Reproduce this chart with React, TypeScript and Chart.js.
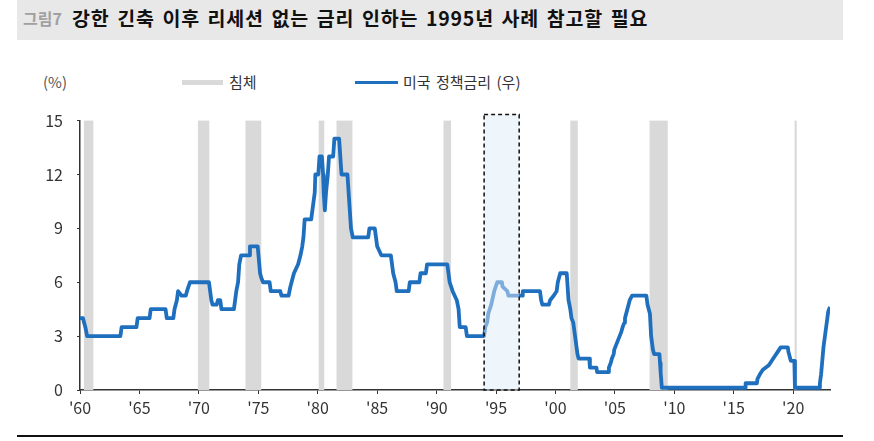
import { useEffect, useRef } from 'react';
import { Chart, registerables } from 'chart.js';
Chart.register(...registerables);

// 미국 정책금리 (변경 시점, %)
const RATE_YEAR = [
  1960.0, 1960.25, 1960.45, 1960.6, 1963.4, 1963.5, 1964.75, 1964.85, 1965.85, 1965.95,
  1967.2, 1967.3, 1967.85, 1967.95, 1968.15, 1968.25, 1968.55, 1968.9, 1969.0, 1969.25,
  1970.85, 1970.95, 1971.05, 1971.15, 1971.5, 1971.6, 1971.8, 1971.9, 1972.95, 1973.05,
  1973.15, 1973.3, 1973.4, 1973.55, 1974.25, 1974.3, 1974.95, 1975.05, 1975.15, 1975.25,
  1975.4, 1975.95, 1976.05, 1976.85, 1976.95, 1977.55, 1977.7, 1977.8, 1978.0, 1978.35,
  1978.55, 1978.7, 1978.8, 1978.9, 1979.45, 1979.55, 1979.65, 1979.75, 1979.8, 1980.05,
  1980.15, 1980.35, 1980.45, 1980.5, 1980.6, 1980.7, 1980.85, 1980.95, 1981.3, 1981.4,
  1981.8, 1981.9, 1982.0, 1982.5, 1982.6, 1982.7, 1982.8, 1982.95, 1984.25, 1984.35,
  1984.8, 1984.9, 1985.0, 1985.35, 1986.15, 1986.25, 1986.35, 1986.55, 1986.65, 1987.65,
  1987.75, 1988.55, 1988.65, 1989.1, 1989.2, 1990.9, 1991.0, 1991.1, 1991.35, 1991.7,
  1991.85, 1991.95, 1992.45, 1992.55, 1994.0, 1994.1, 1994.25, 1994.35, 1994.6, 1994.85,
  1995.1, 1995.5, 1995.55, 1995.95, 1996.05, 1997.2, 1997.25, 1998.7, 1998.8, 1998.9,
  1999.45, 1999.55, 1999.85, 2000.1, 2000.2, 2000.4, 2000.95, 2001.05, 2001.1, 2001.25,
  2001.35, 2001.5, 2001.65, 2001.75, 2001.85, 2001.95, 2002.85, 2002.9, 2003.45, 2003.5,
  2004.45, 2004.5, 2004.65, 2004.75, 2004.9, 2004.95, 2005.1, 2005.25, 2005.4, 2005.55,
  2005.65, 2005.8, 2005.85, 2006.05, 2006.25, 2006.45, 2007.65, 2007.75, 2007.85, 2007.95,
  2008.05, 2008.2, 2008.3, 2008.75, 2008.8, 2008.85, 2008.95, 2015.95, 2016.0, 2016.95,
  2017.0, 2017.2, 2017.45, 2017.95, 2018.2, 2018.45, 2018.7, 2018.95, 2019.55, 2019.6,
  2019.7, 2019.8, 2020.1, 2020.15, 2022.2, 2022.25, 2022.35, 2022.45, 2022.55, 2022.7,
  2022.85, 2022.95, 2023.1,
];
const RATE_PCT = [
  4.0, 4.0, 3.5, 3.0, 3.0, 3.5, 3.5, 4.0, 4.0, 4.5,
  4.5, 4.0, 4.0, 4.5, 5.0, 5.5, 5.25, 5.25, 5.5, 6.0,
  6.0, 5.5, 5.0, 4.75, 4.75, 5.0, 5.0, 4.5, 4.5, 5.0,
  5.5, 6.0, 7.0, 7.5, 7.5, 8.0, 8.0, 7.25, 6.5, 6.25,
  6.0, 6.0, 5.5, 5.5, 5.25, 5.25, 5.75, 6.0, 6.5, 7.0,
  7.5, 8.0, 8.5, 9.5, 9.5, 10.0, 10.5, 11.0, 12.0, 12.0,
  13.0, 13.0, 12.0, 11.0, 10.0, 11.0, 12.0, 13.0, 13.0, 14.0,
  14.0, 13.0, 12.0, 12.0, 11.0, 10.0, 9.0, 8.5, 8.5, 9.0,
  9.0, 8.5, 8.0, 7.5, 7.5, 7.0, 6.5, 6.0, 5.5, 5.5,
  6.0, 6.0, 6.5, 6.5, 7.0, 7.0, 6.5, 6.0, 5.5, 5.0,
  4.5, 3.5, 3.5, 3.0, 3.0, 3.5, 3.75, 4.25, 4.75, 5.5,
  6.0, 6.0, 5.75, 5.5, 5.25, 5.25, 5.5, 5.5, 5.0, 4.75,
  4.75, 5.0, 5.25, 5.5, 6.0, 6.5, 6.5, 5.5, 5.0, 4.5,
  4.0, 3.75, 3.0, 2.5, 2.0, 1.75, 1.75, 1.25, 1.25, 1.0,
  1.0, 1.25, 1.5, 1.75, 2.0, 2.25, 2.5, 2.75, 3.0, 3.25,
  3.5, 3.75, 4.0, 4.5, 5.0, 5.25, 5.25, 4.75, 4.5, 4.25,
  3.0, 2.25, 2.0, 2.0, 1.5, 1.0, 0.125, 0.125, 0.375, 0.375,
  0.625, 0.875, 1.125, 1.375, 1.625, 1.875, 2.125, 2.375, 2.375, 2.125,
  1.875, 1.625, 1.625, 0.125, 0.125, 0.375, 0.875, 1.625, 2.375, 3.125,
  3.875, 4.375, 4.625,
];

// 침체 구간 (NBER)
const RECESSION_START = [1960.33, 1969.92, 1973.92, 1980.08, 1981.58, 1990.58, 2001.25, 2007.92, 2020.12];
const RECESSION_END = [1961.12, 1970.88, 1975.25, 1980.55, 1982.92, 1991.22, 2001.88, 2009.45, 2020.3];

// 1995년 강조 구간
const HIGHLIGHT = [1994.0, 1996.95];

const X_TICKS = [1960, 1965, 1970, 1975, 1980, 1985, 1990, 1995, 2000, 2005, 2010, 2015, 2020];

const FONT = '"Noto Sans CJK KR", "Noto Sans", sans-serif';
const BLUE = '#1f6fbf';
const AXIS = '#333333';

const bandsPlugin = {
  id: 'bands',
  beforeDatasetsDraw(chart: any) {
    const { ctx, chartArea, scales } = chart;
    ctx.save();
    ctx.fillStyle = '#d9d9d9';
    RECESSION_START.forEach((s, i) => {
      const x0 = scales.x.getPixelForValue(s);
      const x1 = scales.x.getPixelForValue(RECESSION_END[i]);
      ctx.fillRect(x0, chartArea.top, Math.max(2, x1 - x0), chartArea.bottom - chartArea.top);
    });
    ctx.restore();
  },
  afterDatasetsDraw(chart: any) {
    const { ctx, chartArea, scales } = chart;
    const x0 = scales.x.getPixelForValue(HIGHLIGHT[0]);
    const x1 = scales.x.getPixelForValue(HIGHLIGHT[1]);
    const top = chartArea.top - 6;
    ctx.save();
    ctx.fillStyle = 'rgba(222,235,247,0.5)';
    ctx.fillRect(x0, top, x1 - x0, chartArea.bottom - top);
    ctx.setLineDash([4, 3]);
    ctx.strokeStyle = '#111';
    ctx.lineWidth = 1.5;
    ctx.strokeRect(x0, top, x1 - x0, chartArea.bottom - top);
    ctx.restore();
  },
};

export default function App() {
  const chartRef = useRef<HTMLCanvasElement>(null);
  const chartInstance = useRef<Chart | null>(null);

  useEffect(() => {
    if (!chartRef.current) return;
    if (chartInstance.current) chartInstance.current.destroy();

    chartInstance.current = new Chart(chartRef.current, {
      type: 'line',
      data: {
        datasets: [{
          label: '미국 정책금리 (우)',
          data: RATE_YEAR.map((x, i) => ({ x, y: RATE_PCT[i] })),
          borderColor: BLUE,
          borderWidth: 3.8,
          pointRadius: 0,
          tension: 0,
          borderJoinStyle: 'round',
        }],
      },
      options: {
        responsive: false,
        animation: false,
        layout: { padding: { left: 0, right: 44, top: 18, bottom: 0 } },
        plugins: { legend: { display: false }, tooltip: { enabled: false } },
        scales: {
          x: {
            type: 'linear',
            min: 1960,
            max: 2023.1,
            afterBuildTicks: (s: any) => { s.ticks = X_TICKS.map(v => ({ value: v })); },
            afterFit: (s: any) => { s.height = 40; },
            ticks: {
              color: AXIS,
              font: { family: FONT, size: 16 },
              padding: 4,
              maxRotation: 0,
              autoSkip: false,
              callback: (v) => `'${String(v).slice(2)}`,
            },
            grid: { drawOnChartArea: false, drawTicks: true, tickLength: 4, color: AXIS },
            border: { display: true, color: AXIS, width: 1.5 },
          },
          y: {
            min: 0,
            max: 15,
            afterFit: (s: any) => { s.width = 80; },
            ticks: { stepSize: 3, color: AXIS, font: { family: FONT, size: 16 }, padding: 14 },
            grid: { drawOnChartArea: false, drawTicks: true, tickLength: 3, color: AXIS },
            border: { display: true, color: AXIS, width: 1.5 },
          },
        },
      },
      plugins: [bandsPlugin],
    });
    return () => { chartInstance.current?.destroy(); };
  }, []);

  return (
    <div style={{ position: 'fixed', left: 0, top: 0, width: 874, height: 441, background: '#fff', fontFamily: FONT, overflow: 'hidden' }}>
      <div style={{ position: 'absolute', left: 17, top: 0, width: 826, height: 40, background: '#e8e8e8' }}>
        <span style={{ position: 'absolute', left: 6, top: 6, fontSize: 16, fontWeight: 700, color: '#a0a0a0', lineHeight: '24px' }}>그림7</span>
        <span style={{ position: 'absolute', left: 55, top: 4, fontSize: 19.5, fontWeight: 700, color: '#111', letterSpacing: 0.8, wordSpacing: 2.5, lineHeight: '28px', whiteSpace: 'nowrap' }}>
          강한 긴축 이후 리세션 없는 금리 인하는 1995년 사례 참고할 필요
        </span>
      </div>
      <div style={{ position: 'absolute', left: 43, top: 71, fontSize: 15, color: '#555', lineHeight: '22px' }}>(%)</div>
      <div style={{ position: 'absolute', left: 182, top: 80, width: 41, height: 5, background: '#d9d9d9' }} />
      <div style={{ position: 'absolute', left: 229, top: 71, fontSize: 15, color: '#333', lineHeight: '22px' }}>침체</div>
      <div style={{ position: 'absolute', left: 355, top: 81, width: 43, height: 3, background: BLUE }} />
      <div style={{ position: 'absolute', left: 403, top: 71, fontSize: 15, color: '#333', lineHeight: '22px', wordSpacing: 2 }}>미국 정책금리 (우)</div>
      <canvas ref={chartRef} width={874} height={333} style={{ position: 'absolute', left: 0, top: 97, width: 874, height: 333 }} />
      <div style={{ position: 'absolute', left: 17, top: 435, width: 826, height: 1.5, background: '#111' }} />
    </div>
  );
}
